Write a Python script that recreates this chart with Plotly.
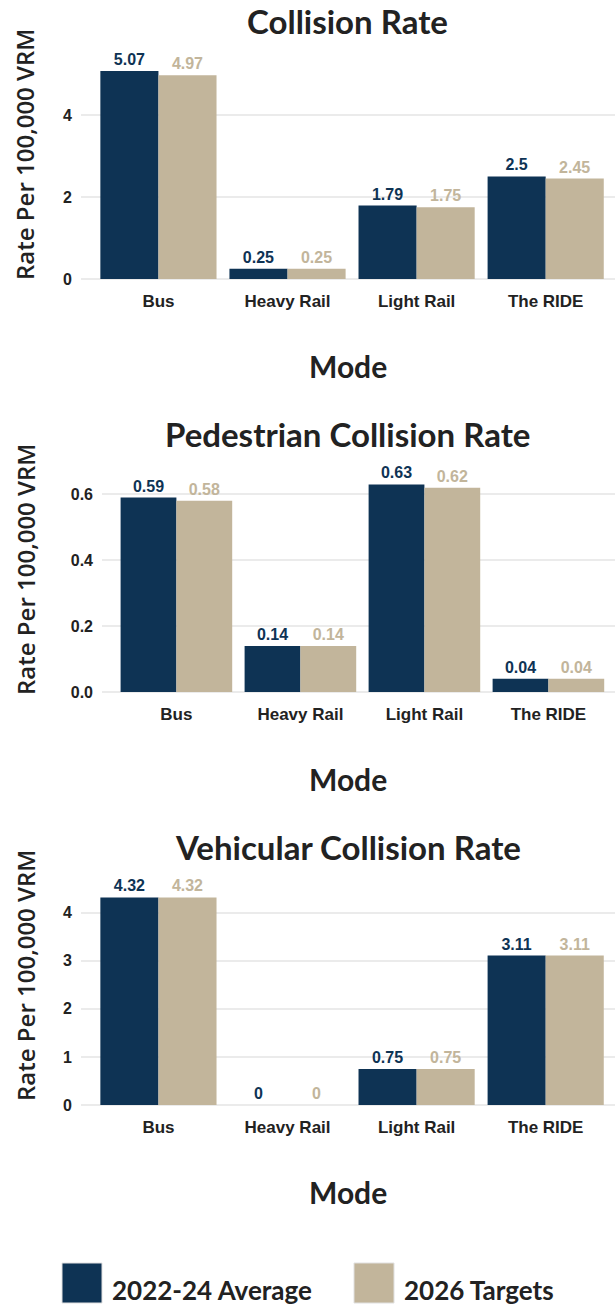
import plotly.graph_objects as go
from plotly.subplots import make_subplots

# data
modes = ["Bus", "Heavy Rail", "Light Rail", "The RIDE"]
series_names = ["2022-24 Average", "2026 Targets"]
panel_titles = ["Collision Rate", "Pedestrian Collision Rate", "Vehicular Collision Rate"]

collision_avg = [5.07, 0.25, 1.79, 2.5]
collision_target = [4.97, 0.25, 1.75, 2.45]
pedestrian_avg = [0.59, 0.14, 0.63, 0.04]
pedestrian_target = [0.58, 0.14, 0.62, 0.04]
vehicular_avg = [4.32, 0, 0.75, 3.11]
vehicular_target = [4.32, 0, 0.75, 3.11]

DARK = "#0e3354"
TAN = "#c2b59b"
INK = "#222222"
W, H = 615, 1306

NARROW = "Liberation Sans, Arial, sans-serif"
HEAD = "Lato, Open Sans, sans-serif"

panels = [
    (collision_avg, collision_target, 2, ",d"),
    (pedestrian_avg, pedestrian_target, 0.2, ".1f"),
    (vehicular_avg, vehicular_target, 1, ",d"),
]

# layout in pixels (top of plot, bottom of plot, left of plot)
tops = [60.7, 474, 887]
bottoms = [289.4, 702.4, 1115.4]
lefts = [81, 102, 81]
title_y = [21, 434, 847]
mode_y = [366, 779, 1192]
ytitle_y = [155, 570, 976]
CX = 348 / W

fig = make_subplots(rows=3, cols=1)

for i, (avg, tgt, dt, fmt) in enumerate(panels):
    r = i + 1
    for vals, colour, name in zip([avg, tgt], [DARK, TAN], series_names):
        fig.add_trace(
            go.Bar(x=modes, y=vals, name=name, marker_color=colour,
                   marker_line_width=0,
                   text=[str(v) for v in vals], textposition="outside",
                   textfont=dict(family=NARROW, size=16, color=colour,
                                 weight="bold"),
                   cliponaxis=False, showlegend=False),
            row=r, col=1)

    ymax = max(avg + tgt)
    fig.update_yaxes(range=[-0.05 * ymax, 1.05 * ymax], dtick=dt, tick0=0,
                     tickformat=fmt, showgrid=True, gridcolor="#ebebeb",
                     gridwidth=1.5, zeroline=False, showline=False,
                     ticklabelstandoff=8,
                     tickfont=dict(family=NARROW, size=16, color=INK,
                                   weight="bold"),
                     domain=[1 - bottoms[i] / H, 1 - tops[i] / H],
                     row=r, col=1)
    fig.update_xaxes(range=[-0.6, 3.537], showgrid=False, zeroline=False,
                     showline=False,
                     tickfont=dict(family=NARROW, size=17, color=INK,
                                   weight="bold"),
                     domain=[lefts[i] / W, 1], row=r, col=1)

    fig.add_annotation(text=panel_titles[i], x=CX, y=1 - title_y[i] / H,
                       xref="paper", yref="paper", showarrow=False,
                       xanchor="center", yanchor="middle",
                       font=dict(family=HEAD, size=33, color=INK, weight="bold"))
    fig.add_annotation(text="Mode", x=CX, y=1 - mode_y[i] / H,
                       xref="paper", yref="paper", showarrow=False,
                       xanchor="center", yanchor="middle",
                       font=dict(family=HEAD, size=30, color=INK, weight="bold"))
    fig.add_annotation(text="Rate Per 100,000 VRM", x=25 / W,
                       y=1 - ytitle_y[i] / H, textangle=-90,
                       xref="paper", yref="paper", showarrow=False,
                       xanchor="center", yanchor="middle",
                       font=dict(family="Open Sans, sans-serif", size=24,
                                 color=INK, weight=600))

# legend drawn as keys + labels
legend_keys = [(62, DARK, series_names[0]), (354, TAN, series_names[1])]
for x0, colour, label in legend_keys:
    fig.add_shape(type="rect", xref="paper", yref="paper",
                  x0=x0 / W, x1=(x0 + 40) / W,
                  y0=1 - 1303 / H, y1=1 - 1263 / H,
                  fillcolor=colour, line=dict(color="#e0e0e0", width=1))
    fig.add_annotation(text=label, x=(x0 + 48) / W, y=1 - 1290 / H,
                       xref="paper", yref="paper", xanchor="left",
                       yanchor="middle", showarrow=False,
                       font=dict(family=HEAD, size=26, color=INK, weight="bold"))

fig.update_layout(
    width=W, height=H,
    margin=dict(l=0, r=0, t=0, b=0),
    barmode="group", bargap=0.1, bargroupgap=0,
    plot_bgcolor="white", paper_bgcolor="white",
    showlegend=False,
)

# page body has a default margin; drop it so the figure fills the window
fig.write_html("out.html", config={"displayModeBar": False},
               post_script="document.body.style.margin='0';")
